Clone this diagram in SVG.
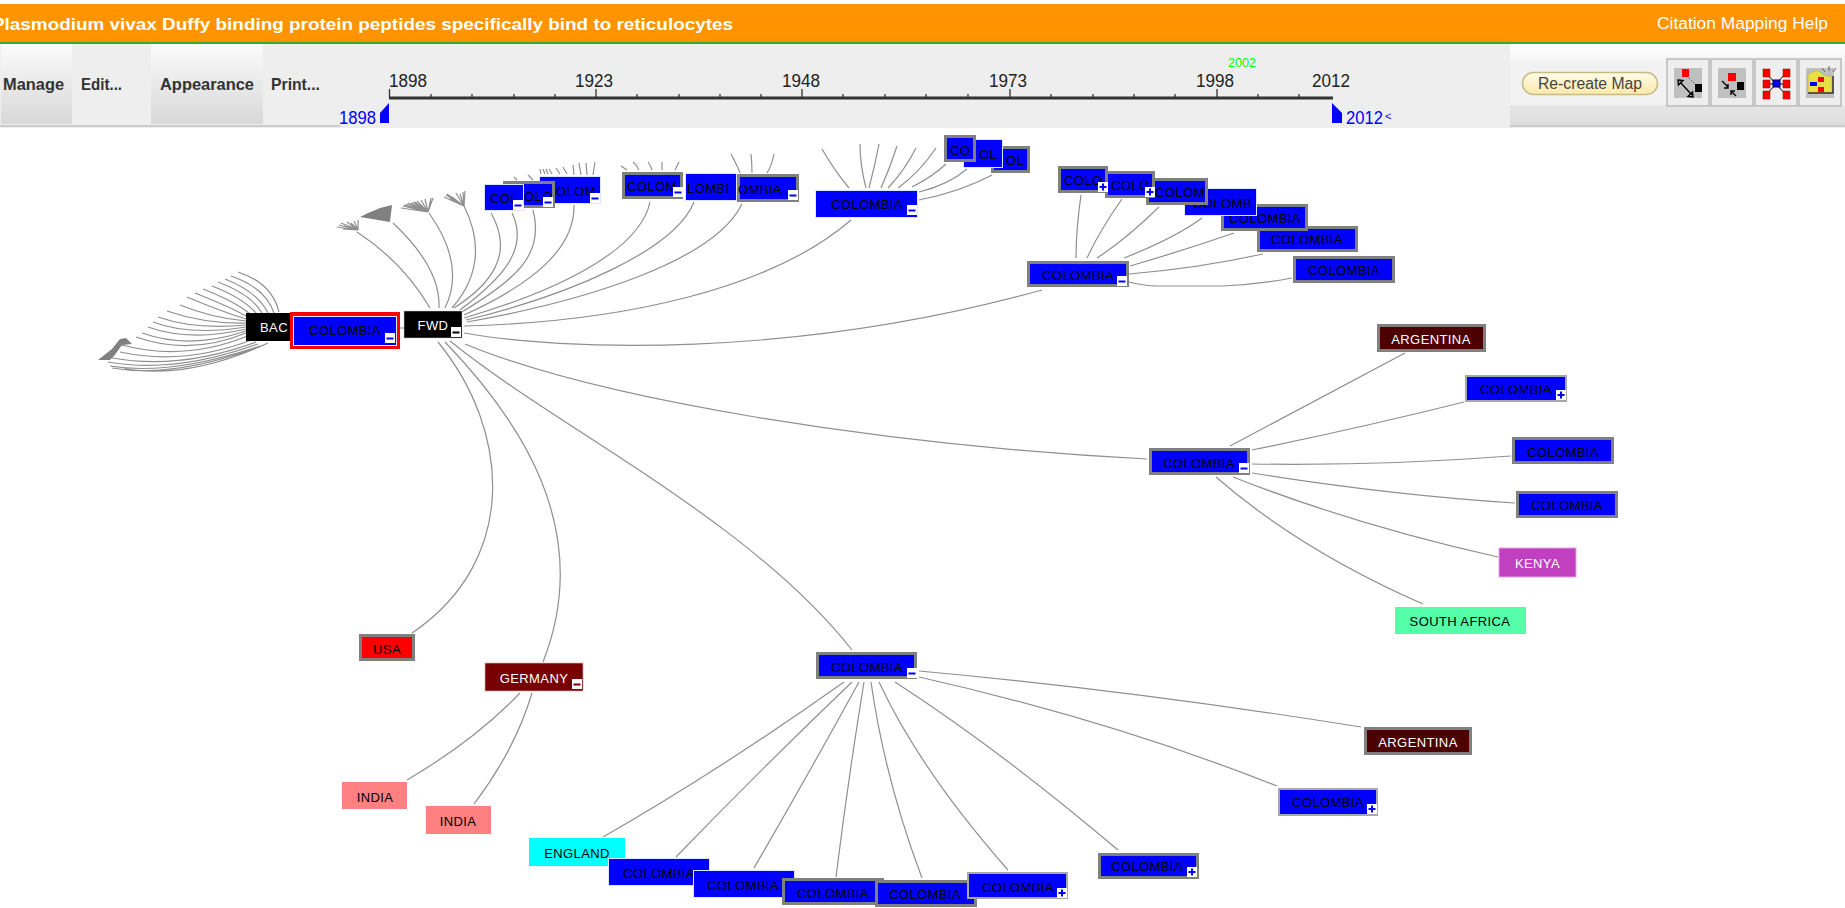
<svg xmlns="http://www.w3.org/2000/svg" width="1845" height="908" viewBox="0 0 1845 908">
<style>
text{font-family:"Liberation Sans",Arial,sans-serif}
.n{font-size:13px;letter-spacing:.4px;fill:#000;text-anchor:middle}
.ns{font-size:13px;letter-spacing:.4px;fill:#000}
.w{font-size:13px;letter-spacing:.4px;fill:#fff;text-anchor:middle}
.b{fill:#0000ff;stroke:#dfe4ff;stroke-width:1}
.g{fill:#0000ff;stroke:#808080;stroke-width:3}
.lg{fill:#0000ff;stroke:#a8a8a8;stroke-width:2}
.e{fill:none;stroke:#8f8f8f;stroke-width:1.2}
.yr{font-size:18px;fill:#222;text-anchor:middle}
.bl{font-size:18px;fill:#0000ff}
.mn{font-size:17px;font-weight:bold;fill:#333}
.tk{stroke:#333;stroke-width:1.3}
.ib{fill:#eee;stroke:#bbb;stroke-width:1.5}
.ig{fill:#c0c0c0}
.r{fill:#f00;stroke:#900;stroke-width:.5}
.k{fill:#000}
.al{stroke:#000;stroke-width:1.4;fill:none}
</style>
<defs>
<linearGradient id="btn" x1="0" y1="0" x2="0" y2="1"><stop offset="0" stop-color="#fbfbfb"/><stop offset="1" stop-color="#d8d8d8"/></linearGradient>
<linearGradient id="pan" x1="0" y1="0" x2="0" y2="1"><stop offset="0" stop-color="#fff"/><stop offset="1" stop-color="#f4f4f4"/></linearGradient>
<linearGradient id="pan2" x1="0" y1="0" x2="0" y2="1"><stop offset="0" stop-color="#e6e6e6"/><stop offset="1" stop-color="#dedede"/></linearGradient>
<linearGradient id="cre" x1="0" y1="0" x2="0" y2="1"><stop offset="0" stop-color="#fffbe6"/><stop offset="1" stop-color="#fde9a8"/></linearGradient>
<g id="mi"><rect width="10" height="10" fill="#fff"/><rect x="1.5" y="4.5" width="7" height="2" fill="#00f"/></g>
<g id="mk"><rect width="10" height="10" fill="#fff"/><rect x="1.5" y="4.5" width="7" height="2" fill="#000"/></g>
<g id="mr"><rect width="10" height="10" fill="#fff"/><rect x="1.5" y="4.5" width="7" height="2" fill="#700"/></g>
<g id="pl"><rect width="10" height="10" fill="#fff"/><path d="M1.5 5H8.5M5 1.5V8.5" stroke="#00f" stroke-width="2"/></g>
</defs>
<rect width="1845" height="908" fill="#fff"/>

<g id="header">
<rect x="0" y="4" width="1845" height="38" fill="#ff9400"/>
<rect x="0" y="42" width="1845" height="2" fill="#3fa535"/>
<text x="-8" y="30" font-size="17" font-weight="bold" fill="#fff" textLength="741" lengthAdjust="spacingAndGlyphs">Plasmodium vivax Duffy binding protein peptides specifically bind to reticulocytes</text>
<text x="1657" y="29" font-size="16" fill="#fff" textLength="171" lengthAdjust="spacingAndGlyphs">Citation Mapping Help</text>
</g>

<g id="toolbar">
<rect x="0" y="44" width="1845" height="84" fill="#eeeeee"/>
<rect x="1" y="44" width="71" height="80" fill="url(#btn)"/>
<rect x="151" y="44" width="112" height="80" fill="url(#btn)"/>
<rect x="0" y="125" width="340" height="2" fill="#ccc"/>
<text class="mn" x="3" y="90" textLength="61" lengthAdjust="spacingAndGlyphs">Manage</text>
<text class="mn" x="81" y="90" textLength="41" lengthAdjust="spacingAndGlyphs">Edit...</text>
<text class="mn" x="160" y="90" textLength="94" lengthAdjust="spacingAndGlyphs">Appearance</text>
<text class="mn" x="271" y="90" textLength="49" lengthAdjust="spacingAndGlyphs">Print...</text>
</g>

<g id="timeline">
<rect x="389" y="96.5" width="944" height="3" fill="#333"/>
<path class="tk" d="M389.5 89V98M596 89V98M802 89V98M1010 89V98M1217 89V98M431 94V98M472 94V98M514 94V98M555 94V98M637 94V98M679 94V98M720 94V98M761 94V98M843 94V98M885 94V98M926 94V98M968 94V98M1051 94V98M1093 94V98M1134 94V98M1175 94V98M1258 94V98M1299 94V98"/>
<text class="yr" x="408" y="86.500" textLength="38" lengthAdjust="spacingAndGlyphs">1898</text>
<text class="yr" x="594" y="86.500" textLength="38" lengthAdjust="spacingAndGlyphs">1923</text>
<text class="yr" x="801" y="86.500" textLength="38" lengthAdjust="spacingAndGlyphs">1948</text>
<text class="yr" x="1008" y="86.500" textLength="38" lengthAdjust="spacingAndGlyphs">1973</text>
<text class="yr" x="1215" y="86.500" textLength="38" lengthAdjust="spacingAndGlyphs">1998</text>
<text class="yr" x="1331" y="86.500" textLength="38" lengthAdjust="spacingAndGlyphs">2012</text>
<text x="1228" y="67" font-size="13" fill="#00ff00" textLength="28" lengthAdjust="spacingAndGlyphs">2002</text>
<text class="bl" x="339" y="123.500" textLength="37" lengthAdjust="spacingAndGlyphs">1898</text>
<text class="bl" x="1346" y="123.500" textLength="37" lengthAdjust="spacingAndGlyphs">2012</text>
<text x="1385" y="120" font-size="11" fill="#0000ff">&lt;</text>
<polygon points="389,103 389,123 380,123 380,113" fill="#0000ff"/>
<polygon points="1332,103 1342,113 1342,123 1332,123" fill="#0000ff"/>
</g>

<g id="controls">
<rect x="1510" y="44" width="335" height="18" fill="url(#pan)"/>
<rect x="1510" y="62" width="335" height="43" fill="#f2f2f2"/>
<rect x="1510" y="105" width="335" height="20" fill="url(#pan2)"/>
<rect x="1510" y="125" width="335" height="2" fill="#ccc"/>
<rect x="1522.500" y="72.500" width="135" height="22" rx="11" fill="url(#cre)" stroke="#c8bb88" stroke-width="1.500"/>
<text x="1538" y="89" font-size="16" fill="#444" textLength="104" lengthAdjust="spacingAndGlyphs">Re-create Map</text>
<rect class="ib" x="1667" y="59" width="42" height="47"/>
<rect class="ib" x="1711" y="59" width="42" height="47"/>
<rect class="ib" x="1755" y="59" width="42" height="47"/>
<rect class="ib" x="1799" y="59" width="42" height="47"/>
<rect class="ig" x="1674" y="68" width="28" height="30"/>
<rect x="1682" y="69" width="7" height="8" fill="#f00"/>
<rect class="k" x="1695" y="84" width="7" height="8"/>
<path d="M1689 78L1695 84" stroke="#555" stroke-dasharray="1.500 1.500"/>
<path class="al" d="M1680 82L1692 95M1678 80L1683 80.500L1678.500 85ZM1693 97L1688 96.500L1692.500 92Z"/>
<rect class="ig" x="1718" y="68" width="28" height="30"/>
<rect x="1728" y="73" width="8" height="8" fill="#f00"/>
<rect class="k" x="1737" y="82" width="7" height="8"/>
<path class="al" d="M1722 81L1728 87M1728 84V88H1724M1736 96L1731 91M1731 95V91H1735"/>
<path stroke="#000" stroke-width="1" d="M1766 73L1776 84M1786 73L1776 84M1766 84H1786M1766 95L1776 84M1786 95L1776 84"/>
<rect x="1773" y="80" width="7" height="7" fill="#00f" stroke="#003"/>
<rect class="r" x="1763" y="69" width="7" height="8"/>
<rect class="r" x="1783" y="69" width="7" height="8"/>
<rect class="r" x="1763" y="80" width="7" height="8"/>
<rect class="r" x="1783" y="80" width="7" height="8"/>
<rect class="r" x="1763" y="91" width="7" height="8"/>
<rect class="r" x="1783" y="91" width="7" height="8"/>
<rect class="ig" x="1806" y="68" width="28" height="30"/>
<polygon points="1808,74 1817,70 1826,76 1832,76 1832,93 1808,93" fill="#e8e040" stroke="#aa9" stroke-width=".7"/>
<path d="M1808 93H1833V76" fill="none" stroke="#333" stroke-width="1.500"/>
<rect x="1810" y="82" width="7" height="4" fill="#00f"/>
<rect x="1818" y="77" width="6" height="5" fill="#f00"/>
<rect x="1818" y="87" width="6" height="5" fill="#f00"/>
<path d="M1825 72L1822 68M1829 71V66M1833 72L1836 68" stroke="#444" stroke-width=".8"/>
</g>

<g id="connectors">
<path class="e" d="M430 308Q403 262 357 232M439 308Q441 268 393 223M445 308Q466 265 429 213M452 308Q492 262 464 206M454 308C490 285 515 255 491 213M460 310C500 280 530 250 512 213M462 312C515 280 545 255 533 210M464 315C530 285 575 250 574 205M464 318C560 290 640 250 650 202M466 320C570 295 675 250 694 202M467 322C590 300 715 260 742 204M464 326C620 322 770 290 851 220M464 333C560 350 790 360 1042 290M465 344C600 400 880 445 1147 459M450 341C560 430 750 520 852 650M445 342C520 420 595 530 543 662M438 342C510 430 520 560 412 633M400 328H404"/>
<path class="e" d="M358 230L337 227M358 230L339 225M358 230L341 223M358 230L344 226M358 230L347 222M358 230L351 223M358 230L354 221M358 230L358 220M358 230L349 226M358 230L343 229"/>
<path class="e" d="M428 212L401 208M428 212L403 206M428 212L404 205M428 212L406 204M428 212L408 203M428 212L411 203M428 212L413 202M428 212L415 202M428 212L417 201M428 212L421 200M428 212L425 199M428 212L431 198M428 212L433 198"/>
<path class="e" d="M464 206L444 197M464 206L446 195M464 206L447 194M464 206L452 197M464 206L456 193M464 206L460 194M464 206L463 192M464 206L465 191M464 206L450 199"/>
<polygon points="390,222 360,217 368,213 373,211 380,208 392,205" fill="#808080"/>
<path class="e" d="M279 312Q272 283 238 272M274 313Q266 288 231 276M268 313Q258 292 225 279M262 313Q252 295 218 282M256 313Q243 298 212 286M250 314Q236 302 203 289M246 316Q228 306 195 293M246 319Q220 311 187 297M246 321Q212 318 180 305M246 323Q205 324 167 311M246 325Q195 330 158 317M246 327Q190 336 153 322M246 329Q190 342 148 327M246 331Q190 350 142 333M246 333Q190 356 136 337M250 335Q185 362 122 345M254 339Q185 366 120 352M256 342Q180 370 112 358M258 344Q175 374 108 362M260 346Q170 376 110 366M264 345Q175 379 112 368M268 343Q190 379 125 369"/>
<polygon points="98,360 112,349 120,339 126,338 132,344 122,345 114,356 110,360" fill="#808080"/>
<path class="e" d="M1076 258Q1076 230 1081 195M1087 258Q1100 230 1122 199M1097 258Q1125 240 1159 207M1124 258Q1175 238 1202 218M1130 266Q1185 250 1234 233M1129 274Q1200 268 1263 254M1129 282Q1145 286 1158 286H1223Q1260 284 1292 278"/>
<path class="e" d="M849 188Q834 170 822 149M866 188Q860 165 860 144M869 188Q875 165 879 144M881 188Q890 168 897 146M888 188Q905 170 916 148M898 188Q920 172 936 148M912 187Q932 177 946 164M919 192Q948 185 967 169M919 200Q960 192 992 175"/>
<path class="e" d="M740 173Q737 165 731 154M752 173Q752 163 751 154M767 173Q772 165 774 154M627 170L621 166M639 170Q637 165 633 162M652 170Q651 166 648 162M662 170V162M675 170Q677 166 679 162"/>
<path class="e" d="M541 174L540 169M545 174L543 169M548 174L546 169M552 174L549 169M560 174L556 168M567 174L563 167M574 175L573 165M581 175L579 163M587 175L586 163M593 175L595 162M517 180L514 177M533 180L528 175"/>
<path class="e" d="M1230 446L1405 353M1252 450Q1360 428 1464 402M1252 464Q1380 466 1511 456M1252 473Q1390 495 1515 503M1233 477Q1355 525 1498 557M1216 477Q1300 550 1423 604"/>
<path class="e" d="M844 682Q720 770 603 837M852 682Q760 770 676 857M859 682Q808 775 754 868M864 682Q848 780 836 877M871 682Q885 780 922 878M879 682Q920 770 1008 870M895 682Q1000 750 1118 850M919 671Q1130 690 1361 727M919 677Q1110 720 1277 786"/>
<path class="e" d="M520 693Q475 740 407 780M532 693Q515 750 474 804"/>
</g>

<g id="node-bac"><rect x="246" y="313" width="50" height="28" fill="#000"/><text class="w" x="274" y="332">BAC</text></g>
<g id="node-selected"><rect x="290" y="312" width="110" height="37" fill="#f00"/><rect x="293" y="316" width="104" height="30" fill="#dfe4ff"/><rect x="294" y="317" width="102" height="28" fill="#00f"/><text class="n" x="345" y="335">COLOMBIA</text><use href="#mi" x="385" y="333"/></g>
<g id="node-fwd"><rect x="404" y="311" width="58" height="27" fill="#000" stroke="#ccc" stroke-width=".5"/><text class="w" x="433" y="330">FWD</text><use href="#mk" x="451" y="327"/></g>

<g id="node-t3"><rect class="b" x="539.500" y="176.500" width="61" height="27"/><text class="ns" x="556" y="196">OLOM</text><use href="#mi" x="590" y="193"/></g>
<g id="node-t2"><rect class="g" x="504.500" y="182.500" width="49" height="24"/><text class="ns" x="524" y="201">OLO</text><use href="#mi" x="543" y="197"/></g>
<g id="node-t1"><rect class="b" x="484.500" y="184.500" width="39" height="26"/><text class="ns" x="490" y="203">COL</text><use href="#mi" x="513" y="200"/></g>
<g id="node-t4"><rect class="g" x="623.500" y="173.500" width="58" height="24"/><text class="ns" x="627" y="191">COLOM</text><use href="#mi" x="673" y="187"/></g>
<g id="node-t6"><rect class="g" x="738.500" y="175.500" width="59" height="25"/><text class="ns" x="738" y="194">OMBIA</text><use href="#mi" x="788" y="190"/></g>
<g id="node-t5"><rect class="b" x="685.500" y="173.500" width="51" height="27"/><text class="ns" x="687" y="193">LOMBI</text></g>
<g id="node-t7"><rect class="b" x="815.500" y="190.500" width="102" height="27"/><text class="n" x="867" y="209">COLOMBIA</text><use href="#mi" x="907" y="205"/></g>
<g id="node-t10"><rect class="g" x="992.500" y="147.500" width="36" height="24"/><text class="ns" x="1006" y="165">OL</text></g>
<g id="node-t9"><rect class="b" x="963.500" y="139.500" width="39" height="28"/><text class="ns" x="979" y="159">OL</text></g>
<g id="node-t8"><rect class="g" x="945.500" y="136.500" width="29" height="24"/><text class="ns" x="950" y="155">CO</text></g>

<g id="node-u7"><rect class="g" x="1294.500" y="257.500" width="99" height="24"/><text class="n" x="1344" y="275">COLOMBIA</text></g>
<g id="node-u6"><rect class="g" x="1258.500" y="227.500" width="98" height="23"/><text class="n" x="1307" y="244">COLOMBIA</text></g>
<g id="node-u5"><rect class="g" x="1222.500" y="205.500" width="84" height="24"/><text class="n" x="1265" y="223">COLOMBIA</text></g>
<g id="node-u4"><rect class="b" x="1184.500" y="188.500" width="72" height="27"/><text class="ns" x="1193" y="208">COLOMB</text></g>
<g id="node-u3"><rect class="g" x="1147.500" y="179.500" width="59" height="24"/><text class="ns" x="1155" y="197">COLOM</text></g>
<g id="node-u2"><rect class="g" x="1106.500" y="172.500" width="47" height="24"/><text class="ns" x="1111" y="190">COLO</text><use href="#pl" x="1145" y="187"/></g>
<g id="node-u1"><rect class="g" x="1059.500" y="167.500" width="47" height="24"/><text class="ns" x="1064" y="185">COLO</text><use href="#pl" x="1098" y="182"/></g>
<g id="node-u0"><rect class="g" x="1028.500" y="262.500" width="99" height="23"/><text class="n" x="1078" y="280">COLOMBIA</text><use href="#mi" x="1117" y="276"/></g>

<g id="node-r0"><rect class="g" x="1150.500" y="449.500" width="98" height="24"/><text class="n" x="1199" y="468">COLOMBIA</text><use href="#mi" x="1239" y="463"/></g>
<g id="node-r1"><rect x="1378.500" y="325.500" width="106" height="25" fill="#4d0000" stroke="#808080" stroke-width="3"/><text class="w" x="1431" y="344">ARGENTINA</text></g>
<g id="node-r2"><rect class="lg" x="1466" y="376" width="100" height="25"/><text class="n" x="1516" y="394">COLOMBIA</text><use href="#pl" x="1556" y="390"/></g>
<g id="node-r3"><rect class="g" x="1513.500" y="438.500" width="99" height="24"/><text class="n" x="1563" y="457">COLOMBIA</text></g>
<g id="node-r4"><rect class="g" x="1517.500" y="492.500" width="99" height="24"/><text class="n" x="1567" y="510">COLOMBIA</text></g>
<g id="node-kenya"><rect x="1499" y="548" width="77" height="29" fill="#c040c0" stroke="#e8a0e8"/><text class="w" x="1537.500" y="568">KENYA</text></g>
<g id="node-sa"><rect x="1395" y="607" width="131" height="27" fill="#55ffaa"/><text class="n" x="1460" y="626">SOUTH AFRICA</text></g>

<g id="node-usa"><rect x="360.500" y="635.500" width="53" height="24" fill="#f00" stroke="#808080" stroke-width="3"/><text class="n" x="387" y="654">USA</text></g>
<g id="node-germany"><rect x="485" y="663" width="98" height="28" fill="#770000" stroke="#e0b0b0" stroke-width=".7"/><text class="w" x="534" y="683">GERMANY</text><use href="#mr" x="572" y="679"/></g>
<g id="node-india1"><rect x="342" y="782" width="65" height="27" fill="#ff8080"/><text class="n" x="375" y="802">INDIA</text></g>
<g id="node-india2"><rect x="426" y="806" width="65" height="28" fill="#ff8080"/><text class="n" x="458" y="826">INDIA</text></g>
<g id="node-england"><rect x="529" y="838" width="96" height="28" fill="#00ffff"/><text class="n" x="577" y="858">ENGLAND</text></g>
<g id="node-c0"><rect class="g" x="817.500" y="653.500" width="98" height="24"/><text class="n" x="867" y="672">COLOMBIA</text><use href="#mi" x="907" y="668"/></g>
<g id="node-ca"><rect class="b" x="608.500" y="858.500" width="101" height="27"/><text class="n" x="659" y="878">COLOMBIA</text></g>
<g id="node-cb"><rect class="b" x="693.500" y="870.500" width="101" height="27"/><text class="n" x="743" y="890">COLOMBIA</text></g>
<g id="node-cc"><rect class="g" x="783.500" y="879.500" width="99" height="24"/><text class="n" x="833" y="898">COLOMBIA</text></g>
<g id="node-cd"><rect class="g" x="876.500" y="881.500" width="99" height="24"/><text class="n" x="925" y="899">COLOMBIA</text></g>
<g id="node-ce"><rect class="lg" x="968" y="873" width="99" height="25"/><text class="n" x="1018" y="892">COLOMBIA</text><use href="#pl" x="1057" y="888"/></g>
<g id="node-cf"><rect class="g" x="1099.500" y="854.500" width="98" height="23"/><text class="n" x="1147" y="871">COLOMBIA</text><use href="#pl" x="1187" y="867"/></g>
<g id="node-cg"><rect class="lg" x="1279" y="789" width="98" height="26"/><text class="n" x="1328" y="807">COLOMBIA</text><use href="#pl" x="1367" y="804"/></g>
<g id="node-carg"><rect x="1365.500" y="728.500" width="105" height="25" fill="#4d0000" stroke="#808080" stroke-width="3"/><text class="w" x="1418" y="747">ARGENTINA</text></g>
</svg>
